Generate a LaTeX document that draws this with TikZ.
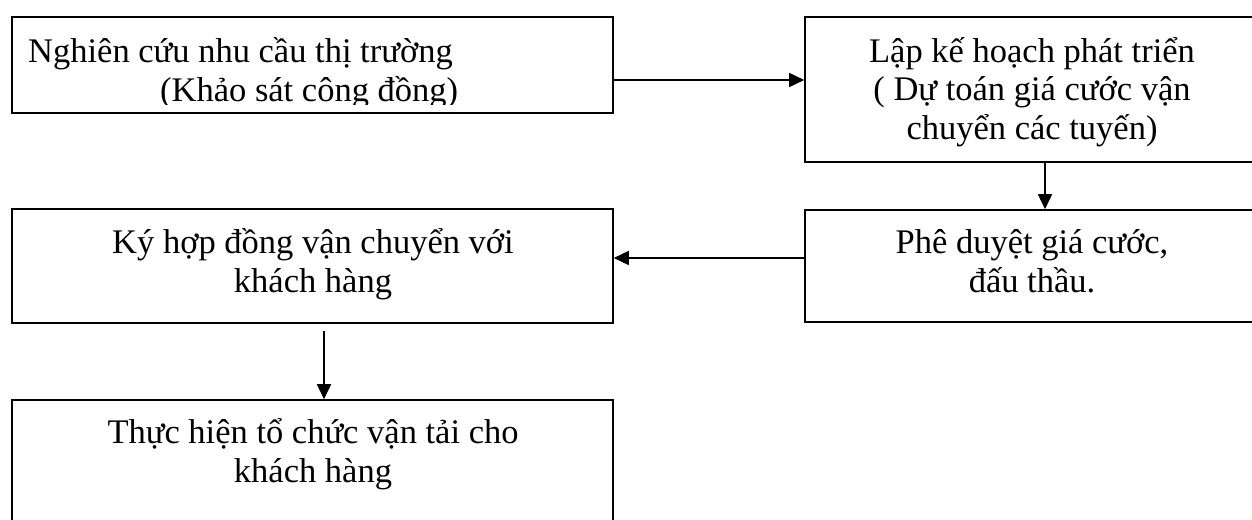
\documentclass[tikz,border=0pt]{standalone}
\usepackage{fontspec}
\setmainfont{Liberation Serif}
\usetikzlibrary{arrows.meta}
\begin{document}
\begin{tikzpicture}[x=1pt,y=-1pt,
  flowbox/.style={draw=black, line width=1.6pt, rectangle, inner sep=0pt},
  boxtext/.style={font=\fontsize{34.5}{38.5}\selectfont, align=center, inner sep=0pt, anchor=base},
  flowarrow/.style={-{Triangle[length=15pt,width=14pt]}, line width=1.6pt}]
  % page frame
  \clip (0,0) rectangle (1252,519);
  \fill[white] (0,0) rectangle (1252,519);

  % boxes
  \node[flowbox, minimum width=601pt, minimum height=96pt]  (research) at (312.5,65)   {};
  \node[flowbox, minimum width=454pt, minimum height=145pt] (plan)     at (1032,89.5)  {};
  \node[flowbox, minimum width=454pt, minimum height=112pt] (approve)  at (1032,266)   {};
  \node[flowbox, minimum width=601pt, minimum height=114pt] (contract) at (312.5,266)  {};
  \node[flowbox, minimum width=601pt, minimum height=160pt] (execute)  at (312.5,480)  {};

  % box texts (anchored on the baseline of their last line)
  \begin{scope}
    \clip (research.north west) rectangle ([yshift=9pt]research.south east);
    \node[boxtext, align=left, anchor=base west] (researchT) at (28,101)
      {Nghiên cứu nhu cầu thị trường\\\hspace*{132pt}(Khảo sát công đồng)};
  \end{scope}
  \node[boxtext] (planT)     at (1032,139) {Lập kế hoạch phát triển\\( Dự toán giá cước vận\\chuyển các tuyến)};
  \node[boxtext] (approveT)  at (1032,292) {Phê duyệt giá cước,\\đấu thầu.};
  \node[boxtext] (contractT) at (313,292)  {Ký hợp đồng vận chuyển với\\khách hàng};
  \node[boxtext] (executeT)  at (313,482)  {Thực hiện tổ chức vận tải cho\\khách hàng};

  % connectors
  \coordinate (a1) at ([yshift=-15pt]research.east);
  \draw[flowarrow] (a1) -- (a1 -| plan.west);
  \coordinate (a2) at ([xshift=13pt]plan.south);
  \draw[flowarrow] (a2) -- (a2 |- approve.north);
  \coordinate (a3) at ([yshift=8pt]approve.west);
  \draw[flowarrow] (a3) -- (a3 -| contract.east);
  \coordinate (a4) at ([xshift=11.5pt,yshift=-7pt]contract.south);
  \draw[flowarrow] (a4) -- (a4 |- execute.north);
\end{tikzpicture}
\end{document}
